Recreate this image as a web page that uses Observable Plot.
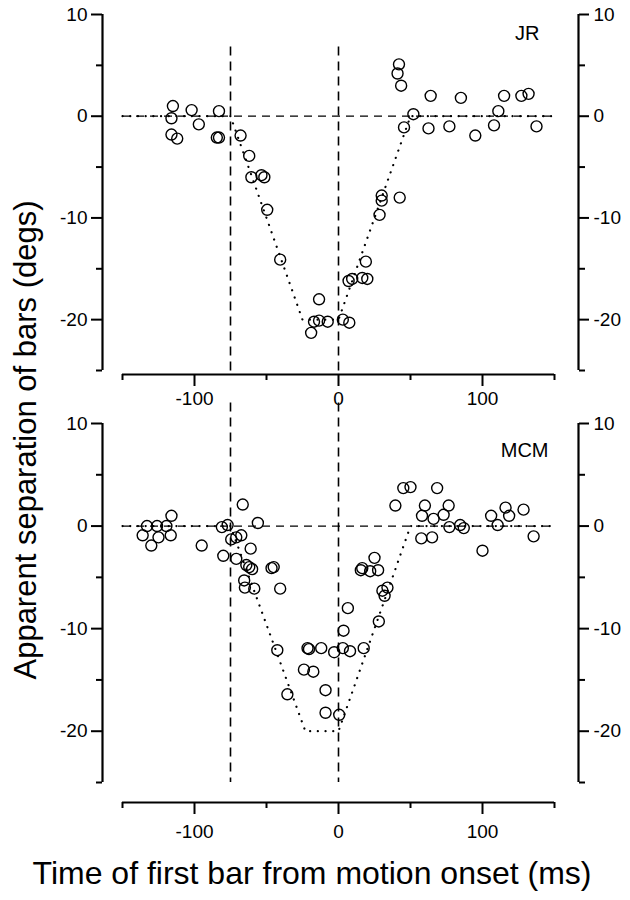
<!DOCTYPE html>
<html><head><meta charset="utf-8">
<script src="https://cdn.jsdelivr.net/npm/d3@7"></script>
<script src="https://cdn.jsdelivr.net/npm/@observablehq/plot@0.6"></script>
<style>
body{margin:0;background:#fff;}
#fig{position:relative;width:630px;height:900px;font-family:"Liberation Sans",Arial,Helvetica,sans-serif;color:#000;}
#fig > svg{position:absolute;left:0;}
</style></head><body><div id="fig"></div>
<script>
// ---- data ----
const jrTime = [-115,-116,-102,-97,-83,-116,-112,-84.5,-83,-68,-62,-60.5,-53.5,-51.5,-49.5,-40.5,-13.5,-19,-17,-13.5,-7.5,3,7.5,7,9.5,16.5,20,19,28.5,30,30,42.5,42,41,43.5,52,45.5,64,62.5,77,85,95,108,111,115,127,132,137.5];
const jrSep  = [1.0,-0.2,0.6,-0.8,0.5,-1.8,-2.2,-2.1,-2.1,-1.9,-3.9,-6.0,-5.8,-6.0,-9.2,-14.1,-18.0,-21.3,-20.2,-20.1,-20.2,-20.0,-20.3,-16.2,-16.0,-15.9,-16.0,-14.3,-9.7,-7.8,-8.3,-8.0,5.1,4.2,3.0,0.2,-1.1,2.0,-1.2,-1.0,1.8,-1.9,-0.9,0.5,2.0,2.0,2.2,-1.0];
const mcmTime = [-133,-126,-119.5,-116,-136,-125,-116.5,-130,-95,-81,-77,-66.5,-56,-74.5,-71,-67.5,-61,-80,-71,-64,-62,-60,-46.5,-45,-65.5,-65,-58.5,-40.5,-42.5,-35.5,-24,-17.5,-21.5,-20.5,-12,-9,-9,0.5,-3,3,8,3.5,6.5,17.5,28,32,30.5,34,25,16.5,15.5,22,27.5,39.5,45,50,68.5,60,76.5,58,66,73,77,84.5,87,57.5,65,100,106,110.5,116,118.5,128.5,135.5];
const mcmSep  = [0,0,0,1.0,-0.9,-1.1,-0.9,-1.9,-1.9,-0.1,0.1,2.1,0.3,-1.3,-1.1,-0.9,-2.2,-2.9,-3.2,-3.8,-4.0,-4.2,-4.1,-4.0,-5.3,-6.0,-6.1,-6.1,-12.1,-16.4,-14.0,-14.2,-11.9,-12.0,-11.9,-16.0,-18.2,-18.4,-12.3,-11.9,-12.2,-10.2,-8.0,-11.9,-9.3,-6.8,-6.3,-6.0,-3.1,-4.1,-4.3,-4.4,-4.3,2.0,3.7,3.8,3.7,2.0,2.0,1.0,0.7,1.1,-0.1,0.1,-0.2,-1.2,-1.1,-2.4,1.0,0.1,1.8,1.0,1.6,-1.0];
const modelTimeJR  = [-150,-75,-25,0,50,150];
const modelSepJR   = [0,0,-20,-20,0,0];
const modelTimeMCM = [-150,-75,-23,0,50,150];
const modelSepMCM  = [0,0,-20,-20,0,0];
const markerTimes = [-75, 0];
const panelNames = ["JR", "MCM"];
const xMajor = [-100, 0, 100];
const xMinor = [-150, -50, 50, 150];
const yMajor = [10, 0, -10, -20];
const yMinor = [5, -5, -15, -25];
const xDomain = [-150, 150];
const yDomain = [-25, 10];
const xTitle = "Time of first bar from motion onset (ms)";
const yTitle = "Apparent separation of bars (degs)";

const FONT = '"Liberation Sans", Arial, Helvetica, sans-serif';
const hyphenFmt = d => String(d);

function panel(cfg) {
  const pts = cfg.times.map((t, i) => ({t, s: cfg.seps[i]}));
  const model = cfg.mTimes.map((t, i) => ({t, s: cfg.mSeps[i]}));
  const svg = Plot.plot({
    width: 630, height: cfg.height,
    marginTop: cfg.marginTop, marginBottom: cfg.marginBottom,
    marginLeft: 102, marginRight: 52,
    x: {domain: xDomain, insetLeft: 20, insetRight: 24, label: null},
    y: {domain: yDomain, insetBottom: cfg.insetBottom, label: null},
    style: {background: "transparent", overflow: "visible", fontSize: "19px", fontFamily: FONT, color: "black"},
    marks: [
      Plot.ruleY([0], {x1: xDomain[0], x2: xDomain[1], stroke: "black", strokeWidth: 1.3, strokeDasharray: "8,6"}),
      Plot.ruleX(markerTimes, {y1: cfg.vTop, y2: cfg.vBottom, stroke: "black", strokeWidth: 1.6, strokeDasharray: "9,6"}),
      Plot.line(model, {x: "t", y: "s", stroke: "black", strokeWidth: 2.2, strokeDasharray: "0.1,7.6", strokeLinecap: "round"}),
      Plot.dot(pts, {x: "t", y: "s", r: 5.5, stroke: "black", strokeWidth: 1.4, fill: "none"}),
      Plot.ruleX([xDomain[0]], {y1: yDomain[0], y2: yDomain[1], dx: -20, stroke: "black", strokeWidth: 2.2}),
      Plot.ruleX([xDomain[1]], {y1: yDomain[0], y2: yDomain[1], dx: 24, stroke: "black", strokeWidth: 2.2}),
      Plot.ruleY([yDomain[0]], {x1: xDomain[0], x2: xDomain[1], dy: cfg.insetBottom, stroke: "black", strokeWidth: 2.2}),
      Plot.axisY(yMajor, {anchor: "left", tickSize: 11, tickPadding: 4, strokeWidth: 2, tickFormat: hyphenFmt, label: null}),
      Plot.axisY(yMinor, {anchor: "left", tickSize: 6, tickFormat: () => "", strokeWidth: 2, label: null}),
      Plot.axisY(yMajor, {anchor: "right", tickSize: 10, tickPadding: 5, strokeWidth: 2, tickFormat: hyphenFmt, label: null}),
      Plot.axisY(yMinor, {anchor: "right", tickSize: 6, tickFormat: () => "", strokeWidth: 2, label: null}),
      Plot.axisX(xMajor, {anchor: "bottom", tickSize: 12, tickPadding: cfg.xPad, strokeWidth: 2, tickFormat: hyphenFmt, label: null}),
      Plot.axisX(xMinor, {anchor: "bottom", tickSize: 6, tickFormat: () => "", strokeWidth: 2, label: null}),
      Plot.text([cfg.name], {frameAnchor: "top-right", dx: cfg.nameDx, dy: cfg.nameDy, fontSize: 20, fill: "black"})
    ]
  });
  svg.style.top = cfg.top + "px";
  return svg;
}

const fig = document.getElementById("fig");
fig.appendChild(panel({
  times: jrTime, seps: jrSep, mTimes: modelTimeJR, mSeps: modelSepJR, name: panelNames[0],
  top: 0, height: 410, marginTop: 14, marginBottom: 36, insetBottom: 4,
  vTop: 6.8, vBottom: -25.4, xPad: 5, nameDx: -39, nameDy: 11
}));
fig.appendChild(panel({
  times: mcmTime, seps: mcmSep, mTimes: modelTimeMCM, mSeps: modelSepMCM, name: panelNames[1],
  top: 395, height: 450, marginTop: 28, marginBottom: 43, insetBottom: 20,
  vTop: 12, vBottom: -25, xPad: 10, nameDx: -30, nameDy: 19
}));

const ov = d3.create("svg").attr("width", 630).attr("height", 900)
  .style("position", "absolute").style("top", "0px").style("left", "0px")
  .style("font-family", FONT).style("pointer-events", "none");
ov.append("text").attr("transform", "translate(36,440) rotate(-90)")
  .attr("text-anchor", "middle").attr("font-size", 31).attr("fill", "black").text(yTitle);
ov.append("text").attr("x", 312).attr("y", 884)
  .attr("text-anchor", "middle").attr("font-size", 32).attr("fill", "black").text(xTitle);
fig.appendChild(ov.node());
</script></body></html>
